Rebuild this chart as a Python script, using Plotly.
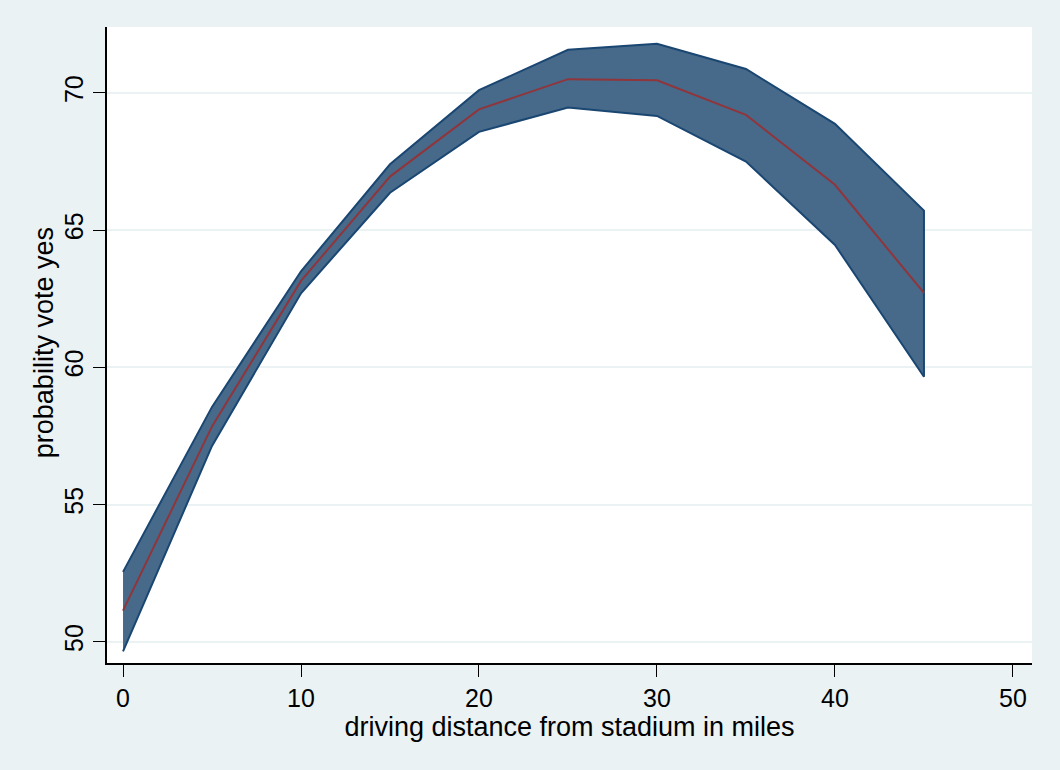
import plotly.graph_objects as go

distance = [0, 5, 10, 15, 20, 25, 30, 35, 40, 45]
prob_mid = [51.14, 57.85, 63.15, 66.95, 69.4, 70.5, 70.46, 69.2, 66.65, 62.71]
prob_upper = [52.55, 58.56, 63.5, 67.4, 70.1, 71.57, 71.79, 70.87, 68.87, 65.71]
prob_lower = [49.65, 57.14, 62.7, 66.36, 68.58, 69.47, 69.16, 67.5, 64.46, 59.66]

x_ticks = [0, 10, 20, 30, 40, 50]
y_ticks = [50, 55, 60, 65, 70]

fig = go.Figure()
fig.add_trace(go.Scatter(
    x=distance + distance[::-1],
    y=prob_upper + prob_lower[::-1],
    fill="toself",
    fillcolor="#476a8a",
    line=dict(color="#1a4672", width=2),
    mode="lines",
    hoverinfo="skip",
    showlegend=False,
))
fig.add_trace(go.Scatter(
    x=distance, y=prob_mid, mode="lines",
    line=dict(color="#90353b", width=2),
    showlegend=False,
))

font = "Liberation Sans, Arial, sans-serif"
fig.update_layout(
    width=1060, height=770,
    paper_bgcolor="#eaf2f3",
    plot_bgcolor="#ffffff",
    margin=dict(l=107, r=28, t=27, b=107),
    font=dict(family=font, size=25, color="#000000"),
    xaxis=dict(
        range=[-0.9, 51.07],
        tickvals=x_ticks,
        showgrid=False, zeroline=False,
        showline=True, linecolor="#000000", linewidth=1.5,
        ticks="outside", ticklen=12, tickcolor="#000000", tickwidth=1.2,
        tickfont=dict(size=25),
        title=dict(text="driving distance from stadium in miles", font=dict(size=27), standoff=0),
    ),
    yaxis=dict(
        range=[49.23, 72.4],
        tickvals=y_ticks,
        tickangle=-90,
        showgrid=True, gridcolor="#eaf2f3", gridwidth=2,
        zeroline=False,
        showline=True, linecolor="#000000", linewidth=1.5,
        ticks="outside", ticklen=12, tickcolor="#000000", tickwidth=1.2,
        tickfont=dict(size=25),
    ),
    annotations=[dict(
        text="probability vote yes", textangle=-90,
        xref="paper", yref="paper", x=-0.068, y=0.503,
        xanchor="center", yanchor="middle", showarrow=False,
        font=dict(size=27, family=font, color="#000000"),
    )],
)

fig.write_html("out.html")
